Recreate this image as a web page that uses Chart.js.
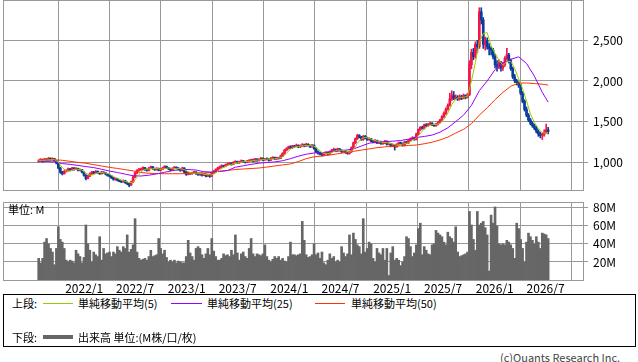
<!DOCTYPE html>
<html lang="ja">
<head>
<meta charset="utf-8">
<script src="https://cdn.jsdelivr.net/npm/chart.js"></script>
<style>
  html, body { margin: 0; padding: 0; background: #fff; }
  body { width: 638px; height: 362px; position: relative; overflow: hidden;
         font-family: "Noto Sans CJK JP", sans-serif; font-size: 11px; color: #000; }
  canvas { position: absolute; left: 0; }
  #price { top: 0; }
  #volume { top: 196px; }
  .txt { position: absolute; line-height: 13px; white-space: nowrap; }
  .ln { position: absolute; height: 1px; }
  #legend { position: absolute; left: 3px; top: 294px; width: 633px; height: 53px;
            border: 1px solid #000; box-sizing: border-box; }
</style>
</head>
<body>
<canvas id="price" width="638" height="191"></canvas>
<canvas id="volume" width="638" height="98"></canvas>
<div class="txt" style="left:8px; top:203px;">単位: M</div>

<div id="legend"></div>
<div class="txt" style="left:12px; top:297px;">上段:</div>
<div class="ln" style="left:43px; top:303px; width:30px; background:#99cc00;"></div>
<div class="txt" style="left:78px; top:297px;">単純移動平均(5)</div>
<div class="ln" style="left:171px; top:303px; width:31px; background:#9900ff;"></div>
<div class="txt" style="left:207px; top:297px;">単純移動平均(25)</div>
<div class="ln" style="left:315px; top:303px; width:30px; background:#ff3300;"></div>
<div class="txt" style="left:351px; top:297px;">単純移動平均(50)</div>
<div class="txt" style="left:12px; top:331px;">下段:</div>
<div class="ln" style="left:43px; top:335px; width:30px; height:4px; background:#666;"></div>
<div class="txt" style="left:78px; top:331px;">出来高 単位:(M株/口/枚)</div>
<div class="txt" style="left:500px; top:351px; color:#444;">(c)Quants Research Inc.</div>

<script>
// weekly candles, first week and axis window
const firstWeek = '2021-07-23'
const axisStart = '2021-03-18'
const axisEnd = '2026-11-11'
const tickLabels = ['2022/1', '2022/7', '2023/1', '2023/7', '2024/1', '2024/7', '2025/1', '2025/7', '2026/1', '2026/7']
const priceTicks = [1000, 1500, 2000, 2500]
const volumeTicks = [20, 40, 60, 80]

const opens = [
  1010,1020,1035,1010,1040,1025,1050,1030,1045,1020,
  990,930,880,860,890,900,920,905,930,915,
  925,900,910,880,840,800,830,860,880,870,
  890,875,860,880,870,855,840,830,810,790,
  800,780,770,760,775,750,740,720,760,820,
  870,900,910,920,935,910,900,930,945,920,
  910,925,900,915,930,950,935,920,905,925,
  940,930,915,900,930,880,850,870,860,870,
  880,860,850,865,840,855,830,845,830,870,
  890,910,930,945,960,950,970,980,990,975,
  1000,1010,995,1005,1020,1010,1000,1015,1025,1030,
  1015,1040,1020,1035,1050,1030,1045,1040,1025,1050,
  1060,1040,1055,1050,1080,1110,1150,1170,1190,1180,
  1200,1195,1210,1190,1205,1215,1200,1220,1205,1190,
  1210,1170,1130,1110,1100,1090,1110,1120,1100,1130,
  1150,1160,1140,1165,1150,1130,1140,1120,1110,1130,
  1180,1240,1290,1330,1310,1280,1320,1300,1280,1290,
  1260,1250,1270,1240,1250,1230,1240,1260,1220,1230,
  1200,1215,1190,1220,1240,1230,1210,1250,1240,1270,
  1290,1300,1280,1350,1400,1430,1420,1460,1450,1470,
  1480,1460,1450,1470,1490,1520,1560,1600,1650,1700,
  1780,1820,1790,1800,1780,1810,1790,1820,1800,1830,
  2200,2350,2300,2450,2420,2850,2750,2450,2500,2420,
  2400,2380,2300,2200,2180,2220,2160,2200,2280,2320,
  2250,2150,2050,2000,1980,1950,1850,1750,1650,1580,
  1520,1480,1450,1420,1380,1350,1330,1340,1370,1400
]
const highs = [
  1030,1045,1040,1050,1045,1060,1055,1055,1050,1025,
  995,940,890,900,910,930,925,940,935,935,
  930,920,915,885,850,840,870,890,890,900,
  895,880,890,885,875,860,850,840,815,810,
  805,790,780,785,780,760,745,770,830,880,
  910,925,930,945,940,920,940,955,950,930,
  935,930,925,940,960,955,940,925,935,950,
  945,935,920,940,935,890,880,875,880,890,
  885,870,875,870,865,860,855,855,875,900,
  920,940,955,970,965,980,990,1000,995,1010,
  1020,1015,1015,1030,1025,1015,1025,1035,1040,1040,
  1050,1045,1045,1060,1055,1050,1055,1045,1060,1070,
  1065,1065,1060,1090,1120,1160,1180,1200,1205,1210,
  1210,1225,1215,1215,1230,1225,1235,1230,1215,1220,
  1215,1180,1140,1125,1110,1120,1130,1125,1140,1160,
  1175,1165,1175,1170,1155,1150,1145,1130,1140,1190,
  1250,1300,1345,1340,1320,1330,1330,1310,1300,1295,
  1270,1280,1275,1260,1260,1250,1270,1265,1240,1235,
  1225,1220,1230,1250,1250,1240,1260,1260,1280,1300,
  1315,1310,1360,1410,1440,1445,1470,1475,1480,1495,
  1490,1470,1480,1500,1530,1575,1620,1670,1720,1850,
  1880,1870,1830,1820,1830,1825,1840,1830,1850,2250,
  2390,2400,2480,2500,2900,2900,2780,2540,2530,2460,
  2420,2400,2330,2250,2260,2240,2230,2300,2400,2340,
  2270,2170,2080,2020,1990,1970,1870,1770,1680,1600,
  1540,1500,1470,1440,1400,1370,1360,1400,1470,1430
]
const lows = [
  1000,1010,1000,1005,1015,1020,1025,1025,1015,980,
  920,865,845,855,880,890,895,900,905,910,
  895,895,870,830,785,795,825,850,860,865,
  865,850,855,865,845,830,820,800,780,780,
  770,760,750,755,740,725,700,715,750,810,
  860,890,900,910,900,890,895,925,915,900,
  905,895,895,910,925,925,910,895,900,920,
  920,905,890,895,870,840,845,850,850,860,
  850,840,840,830,835,820,825,815,825,860,
  880,900,920,935,940,945,960,970,965,970,
  990,985,985,1000,1000,990,995,1005,1015,1005,
  1010,1010,1015,1030,1020,1025,1030,1015,1020,1045,
  1035,1035,1040,1045,1070,1100,1140,1160,1170,1170,
  1185,1190,1180,1180,1195,1190,1195,1200,1180,1185,
  1160,1120,1100,1090,1075,1080,1100,1090,1095,1120,
  1140,1130,1135,1140,1120,1120,1110,1100,1100,1120,
  1170,1230,1280,1300,1270,1270,1290,1270,1270,1250,
  1240,1240,1230,1230,1220,1220,1230,1210,1215,1190,
  1195,1150,1185,1210,1220,1200,1200,1230,1230,1260,
  1280,1270,1275,1340,1390,1410,1410,1440,1440,1460,
  1450,1440,1440,1460,1480,1510,1550,1590,1640,1690,
  1760,1770,1770,1760,1765,1770,1780,1780,1790,1820,
  2150,2260,2280,2350,2400,2700,2400,2380,2390,2320,
  2320,2270,2160,2120,2150,2120,2130,2180,2260,2220,
  2130,2030,1980,1950,1920,1830,1730,1630,1560,1500,
  1460,1430,1400,1360,1320,1300,1280,1320,1360,1350
]
const closes = [
  1020,1035,1010,1040,1025,1050,1030,1045,1020,990,
  930,880,860,890,900,920,905,930,915,925,
  900,910,880,840,800,830,860,880,870,890,
  875,860,880,870,855,840,830,810,790,800,
  780,770,760,775,750,740,720,760,820,870,
  900,910,920,935,910,900,930,945,920,910,
  925,900,915,930,950,935,920,905,925,940,
  930,915,900,930,880,850,870,860,870,880,
  860,850,865,840,855,830,845,830,870,890,
  910,930,945,960,950,970,980,990,975,1000,
  1010,995,1005,1020,1010,1000,1015,1025,1030,1015,
  1040,1020,1035,1050,1030,1045,1040,1025,1050,1060,
  1040,1055,1050,1080,1110,1150,1170,1190,1180,1200,
  1195,1210,1190,1205,1215,1200,1220,1205,1190,1210,
  1170,1130,1110,1100,1090,1110,1120,1100,1130,1150,
  1160,1140,1165,1150,1130,1140,1120,1110,1130,1180,
  1240,1290,1330,1310,1280,1320,1300,1280,1290,1260,
  1250,1270,1240,1250,1230,1240,1260,1220,1230,1200,
  1215,1190,1220,1240,1230,1210,1250,1240,1270,1290,
  1300,1280,1350,1400,1430,1420,1460,1450,1470,1480,
  1460,1450,1470,1490,1520,1560,1600,1650,1700,1780,
  1820,1790,1800,1780,1810,1790,1820,1800,1830,2200,
  2350,2300,2450,2420,2850,2750,2450,2500,2420,2400,
  2380,2300,2200,2180,2220,2160,2200,2280,2320,2250,
  2150,2050,2000,1980,1950,1850,1750,1650,1580,1520,
  1480,1450,1420,1380,1350,1330,1340,1370,1400,1380
]
// volume in millions
const volumes = [
  24,19,24,42,46,40,35,31,17,35,59,45,
  42,35,22,20,22,21,19,33,29,26,19,25,
  61,40,33,20,31,28,26,48,22,35,29,30,
  31,26,31,29,37,33,31,37,35,50,31,34,
  39,68,31,24,22,23,24,22,26,33,26,27,
  28,46,35,29,33,25,20,22,20,22,19,21,
  20,19,19,26,44,30,26,22,35,37,35,28,
  24,29,35,28,46,32,26,22,22,24,29,27,
  28,26,33,28,50,30,22,29,31,26,24,35,
  46,29,26,29,28,27,29,39,26,22,20,23,
  26,24,26,22,24,21,20,26,42,28,28,27,
  28,29,65,44,28,25,26,28,40,28,30,24,
  31,19,17,22,29,24,26,20,22,20,37,30,
  26,29,50,28,52,45,39,37,29,68,31,35,
  42,40,24,20,35,30,28,35,22,35,5,30,
  37,22,24,22,16,20,26,48,46,37,26,30,
  39,57,63,28,37,33,29,28,39,40,55,52,
  50,48,42,39,53,48,46,42,59,31,26,27,
  28,29,31,76,61,45,33,76,61,63,65,58,
  50,10,72,63,81,60,40,39,40,39,44,42,
  39,35,24,63,57,45,35,20,42,52,48,44,
  40,48,42,35,52,51,50,46
]
// moving averages: ma5 every 2nd week, ma25/ma50 every 4th week, last value = last week
const ma5 = [
  1020,1022,1026,1031,1034,1003,936,892,895,914,
  915,906,866,842,848,875,875,868,855,825,
  802,780,767,749,758,814,884,915,919,921,
  926,914,924,930,927,924,922,911,886,866,
  868,865,854,847,846,869,909,939,961,973,
  991,997,1008,1010,1016,1025,1028,1035,1040,1038,
  1043,1051,1067,1112,1160,1187,1195,1203,1206,1206,
  1199,1162,1120,1106,1110,1132,1149,1149,1141,1126,
  1156,1234,1290,1308,1294,1276,1262,1248,1244,1236,
  1225,1211,1219,1230,1240,1270,1298,1352,1412,1446,
  1464,1466,1478,1528,1606,1710,1778,1800,1800,1810,
  2000,2226,2474,2584,2594,2430,2340,2256,2192,2236,
  2240,2154,2026,1906,1756,1596,1490,1416,1364,1358,
  1364
]
const ma25 = [
  1012,1010,1005,985,975,962,948,935,915,893,
  875,855,835,832,842,858,878,898,910,912,
  905,885,880,890,900,940,958,975,990,998,
  1005,1020,1045,1075,1100,1115,1120,1130,1140,1150,
  1165,1200,1235,1250,1255,1260,1268,1285,1305,1318,
  1335,1370,1425,1500,1580,1700,1880,2000,2140,2220,
  2265,2297,2215,2060,1860,1740
]
const ma50 = [
  1037,1035,1032,1025,1012,1000,988,972,955,938,
  925,910,895,875,866,862,860,860,860,862,
  865,870,878,888,900,912,918,924,930,942,
  955,968,980,1010,1045,1068,1078,1090,1105,1120,
  1135,1150,1165,1180,1190,1197,1202,1207,1213,1228,
  1247,1275,1310,1360,1405,1475,1580,1670,1770,1860,
  1935,1975,1975,1968,1960,1950
]

const dayOf = (y, m, d) => Date.UTC(y, m - 1, d) / 864e5
const isoDay = s => dayOf(+s.slice(0, 4), +s.slice(5, 7), +s.slice(8, 10))
const day0 = isoDay(firstWeek)
const weekX = closes.map((_, i) => day0 + 7 * i)
const tickDays = tickLabels.map(t => { const [y, m] = t.split('/'); return dayOf(+y, +m, 1) })
const xMin = isoDay(axisStart)
const xMax = isoDay(axisEnd)

const sampled = (arr, step) => arr.map((v, k) => ({ x: weekX[Math.min(k * step, weekX.length - 1)], y: v }))

const UP = '#f5154a'
const DOWN = '#0a3c9b'
const candleColors = closes.map((c, i) => c >= opens[i] ? UP : DOWN)
const GRID = '#999'
const FONT = { family: '"Noto Sans CJK JP", sans-serif', size: 12 }

// gray frame round the plot area
const framePlugin = {
  id: 'frame',
  afterDraw (chart) {
    const { ctx, chartArea: a } = chart
    ctx.save()
    ctx.strokeStyle = GRID
    ctx.lineWidth = 1
    ctx.strokeRect(Math.round(a.left) + 0.5, Math.round(a.top) + 0.5,
      Math.round(a.right - a.left), Math.round(a.bottom - a.top))
    ctx.restore()
  }
}

// no extra room for half labels at the ends
const noPad = s => { s.paddingTop = 0; s.paddingBottom = 0; s.paddingLeft = 0; s.paddingRight = 0 }

const xScale = (showLabels) => ({
  type: 'linear',
  min: xMin,
  max: xMax,
  offset: false,
  afterBuildTicks: s => { s.ticks = tickDays.map(v => ({ value: v })) },
  afterFit: s => { s.height = showLabels ? 14 : 0; noPad(s) },
  ticks: {
    display: showLabels,
    autoSkip: false,
    maxRotation: 0,
    padding: 1,
    color: '#000',
    font: FONT,
    callback: (v, i) => tickLabels[i]
  },
  grid: { color: GRID, drawTicks: false },
  border: { display: false }
})

const yScale = (min, max, ticks, fmt) => ({
  position: 'right',
  min,
  max,
  afterBuildTicks: s => { s.ticks = ticks.map(v => ({ value: v })) },
  afterFit: s => { s.width = 55; noPad(s) },
  ticks: { color: '#000', font: FONT, padding: 5, callback: fmt },
  grid: { color: GRID, tickLength: 5 },
  border: { display: false }
})

const common = {
  responsive: false,
  animation: false,
  devicePixelRatio: 1,
  events: [],
  plugins: { legend: { display: false }, tooltip: { enabled: false } }
}

new Chart(document.getElementById('price'), {
  type: 'bar',
  data: {
    datasets: [
      { type: 'line', data: sampled(ma5, 2), borderColor: '#99cc00', borderWidth: 1, pointRadius: 0, order: 0 },
      { type: 'line', data: sampled(ma25, 4), borderColor: '#9900ff', borderWidth: 1, pointRadius: 0, order: 1 },
      { type: 'line', data: sampled(ma50, 4), borderColor: '#ff3300', borderWidth: 1, pointRadius: 0, order: 2 },
      {
        data: closes.map((c, i) => ({ x: weekX[i], y: [opens[i], c] })),
        backgroundColor: candleColors, barThickness: 2, grouped: false, order: 3
      },
      {
        data: closes.map((c, i) => ({ x: weekX[i], y: [lows[i], highs[i]] })),
        backgroundColor: candleColors, barThickness: 1, grouped: false, order: 4
      }
    ]
  },
  options: {
    ...common,
    layout: { padding: { left: 3, top: 0, right: 0, bottom: 1 } },
    scales: {
      x: xScale(false),
      y: yScale(660, 2995, priceTicks, v => v.toLocaleString('en-US'))
    }
  },
  plugins: [framePlugin]
})

new Chart(document.getElementById('volume'), {
  type: 'bar',
  data: {
    datasets: [{
      data: volumes.map((v, i) => ({ x: weekX[i], y: v })),
      backgroundColor: '#666',
      barPercentage: 1,
      categoryPercentage: 1,
      grouped: false
    }]
  },
  options: {
    ...common,
    layout: { padding: { left: 3, top: 6, right: 0, bottom: 0 } },
    scales: {
      x: xScale(true),
      y: yScale(0, 86.5, volumeTicks, v => v + 'M')
    }
  },
  plugins: [framePlugin]
})
</script>
</body>
</html>
